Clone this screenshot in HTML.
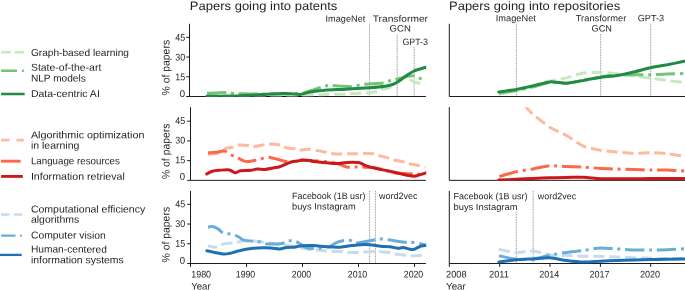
<!DOCTYPE html>
<html><head><meta charset="utf-8"><title>chart</title>
<style>
html,body{margin:0;padding:0;background:#fff;}
svg{display:block;will-change:transform;font-family:"Liberation Sans",sans-serif;fill:#1f1f1f;}
</style></head><body>
<svg width="685" height="290" viewBox="0 0 685 290">
<rect width="685" height="290" fill="#fff"/>
<defs>
<clipPath id="cL0"><rect x="188" y="23.8" width="238.2" height="73.05"/></clipPath>
<clipPath id="cL1"><rect x="188" y="107.2" width="238.2" height="73.5"/></clipPath>
<clipPath id="cL2"><rect x="188" y="190.85" width="238.2" height="73.0"/></clipPath>
<clipPath id="cR0"><rect x="447" y="23.8" width="240" height="73.05"/></clipPath>
<clipPath id="cR1"><rect x="447" y="107.2" width="240" height="73.5"/></clipPath>
<clipPath id="cR2"><rect x="447" y="190.85" width="240" height="73.0"/></clipPath>
</defs>
<line x1="369.5" y1="23.8" x2="369.5" y2="96.5" stroke="#d0d0d0" stroke-width="0.65"/><line x1="369.5" y1="23.8" x2="369.5" y2="96.5" stroke="#808080" stroke-width="0.65" stroke-dasharray="1.1 1.5"/>
<line x1="397.2" y1="35.2" x2="397.2" y2="96.5" stroke="#d0d0d0" stroke-width="0.65"/><line x1="397.2" y1="35.2" x2="397.2" y2="96.5" stroke="#808080" stroke-width="0.65" stroke-dasharray="1.1 1.5"/>
<line x1="414.2" y1="47.1" x2="414.2" y2="96.5" stroke="#d0d0d0" stroke-width="0.65"/><line x1="414.2" y1="47.1" x2="414.2" y2="96.5" stroke="#808080" stroke-width="0.65" stroke-dasharray="1.1 1.5"/>
<line x1="516.4" y1="23.8" x2="516.4" y2="96.5" stroke="#d0d0d0" stroke-width="0.65"/><line x1="516.4" y1="23.8" x2="516.4" y2="96.5" stroke="#808080" stroke-width="0.65" stroke-dasharray="1.1 1.5"/>
<line x1="600.6" y1="34" x2="600.6" y2="96.5" stroke="#d0d0d0" stroke-width="0.65"/><line x1="600.6" y1="34" x2="600.6" y2="96.5" stroke="#808080" stroke-width="0.65" stroke-dasharray="1.1 1.5"/>
<line x1="650.7" y1="23.8" x2="650.7" y2="96.5" stroke="#d0d0d0" stroke-width="0.65"/><line x1="650.7" y1="23.8" x2="650.7" y2="96.5" stroke="#808080" stroke-width="0.65" stroke-dasharray="1.1 1.5"/>
<line x1="369.6" y1="190.9" x2="369.6" y2="263.5" stroke="#d0d0d0" stroke-width="0.65"/><line x1="369.6" y1="190.9" x2="369.6" y2="263.5" stroke="#808080" stroke-width="0.65" stroke-dasharray="1.1 1.5"/>
<line x1="375.4" y1="190.9" x2="375.4" y2="263.5" stroke="#d0d0d0" stroke-width="0.65"/><line x1="375.4" y1="190.9" x2="375.4" y2="263.5" stroke="#808080" stroke-width="0.65" stroke-dasharray="1.1 1.5"/>
<line x1="516.3" y1="211.6" x2="516.3" y2="263.5" stroke="#d0d0d0" stroke-width="0.65"/><line x1="516.3" y1="211.6" x2="516.3" y2="263.5" stroke="#808080" stroke-width="0.65" stroke-dasharray="1.1 1.5"/>
<line x1="533.2" y1="190.9" x2="533.2" y2="263.5" stroke="#d0d0d0" stroke-width="0.65"/><line x1="533.2" y1="190.9" x2="533.2" y2="263.5" stroke="#808080" stroke-width="0.65" stroke-dasharray="1.1 1.5"/>
<path d="M189.5,23.8 V96.5 H425.9" fill="none" stroke="#1c1c1c" stroke-width="1.0"/>
<path d="M449.3,23.8 V96.5 H685" fill="none" stroke="#1c1c1c" stroke-width="1.0"/>
<line x1="186.2" y1="96.50" x2="189.5" y2="96.50" stroke="#1c1c1c" stroke-width="1.0"/>
<text transform="translate(185.1,96.9) scale(0.9832,1) rotate(0.03)" font-size="9.7" text-anchor="end">0</text>
<line x1="186.2" y1="76.78" x2="189.5" y2="76.78" stroke="#1c1c1c" stroke-width="1.0"/>
<text transform="translate(185.1,80.28) scale(0.9183,1) rotate(0.03)" font-size="9.7" text-anchor="end">15</text>
<line x1="186.2" y1="57.06" x2="189.5" y2="57.06" stroke="#1c1c1c" stroke-width="1.0"/>
<text transform="translate(185.1,60.56) scale(0.9183,1) rotate(0.03)" font-size="9.7" text-anchor="end">30</text>
<line x1="186.2" y1="37.34" x2="189.5" y2="37.34" stroke="#1c1c1c" stroke-width="1.0"/>
<text transform="translate(185.1,40.84) scale(0.9183,1) rotate(0.03)" font-size="9.7" text-anchor="end">45</text>
<text transform="translate(169.6,67.7) rotate(-90.03) scale(0.9649,1)" font-size="10.8" text-anchor="middle">% of papers</text>
<path d="M190.5,107.2 V180.35 H425.9" fill="none" stroke="#1c1c1c" stroke-width="1.0"/>
<path d="M449.3,107.2 V180.35 H685" fill="none" stroke="#1c1c1c" stroke-width="1.0"/>
<line x1="187.2" y1="180.35" x2="190.5" y2="180.35" stroke="#1c1c1c" stroke-width="1.0"/>
<text transform="translate(185.1,179.65) scale(0.9832,1) rotate(0.03)" font-size="9.7" text-anchor="end">0</text>
<line x1="187.2" y1="160.63" x2="190.5" y2="160.63" stroke="#1c1c1c" stroke-width="1.0"/>
<text transform="translate(185.1,163.33) scale(0.9183,1) rotate(0.03)" font-size="9.7" text-anchor="end">15</text>
<line x1="187.2" y1="140.91" x2="190.5" y2="140.91" stroke="#1c1c1c" stroke-width="1.0"/>
<text transform="translate(185.1,143.61) scale(0.9183,1) rotate(0.03)" font-size="9.7" text-anchor="end">30</text>
<line x1="187.2" y1="121.19" x2="190.5" y2="121.19" stroke="#1c1c1c" stroke-width="1.0"/>
<text transform="translate(185.1,123.89) scale(0.9183,1) rotate(0.03)" font-size="9.7" text-anchor="end">45</text>
<text transform="translate(169.6,151.3) rotate(-90.03) scale(0.9649,1)" font-size="10.8" text-anchor="middle">% of papers</text>
<path d="M190.5,190.85 V263.5 H425.9" fill="none" stroke="#1c1c1c" stroke-width="1.0"/>
<path d="M449.3,190.85 V263.5 H685" fill="none" stroke="#1c1c1c" stroke-width="1.0"/>
<line x1="187.2" y1="263.50" x2="190.5" y2="263.50" stroke="#1c1c1c" stroke-width="1.0"/>
<text transform="translate(185.1,263.65) scale(0.9832,1) rotate(0.03)" font-size="9.7" text-anchor="end">0</text>
<line x1="187.2" y1="243.78" x2="190.5" y2="243.78" stroke="#1c1c1c" stroke-width="1.0"/>
<text transform="translate(185.1,246.78) scale(0.9183,1) rotate(0.03)" font-size="9.7" text-anchor="end">15</text>
<line x1="187.2" y1="224.06" x2="190.5" y2="224.06" stroke="#1c1c1c" stroke-width="1.0"/>
<text transform="translate(185.1,227.06) scale(0.9183,1) rotate(0.03)" font-size="9.7" text-anchor="end">30</text>
<line x1="187.2" y1="204.34" x2="190.5" y2="204.34" stroke="#1c1c1c" stroke-width="1.0"/>
<text transform="translate(185.1,207.34) scale(0.9183,1) rotate(0.03)" font-size="9.7" text-anchor="end">45</text>
<text transform="translate(169.6,234.7) rotate(-90.03) scale(0.9649,1)" font-size="10.8" text-anchor="middle">% of papers</text>
<line x1="190.5" y1="263.5" x2="190.5" y2="266.9" stroke="#1c1c1c" stroke-width="1.0"/>
<text transform="translate(191.2,277.5) scale(0.9324,1) rotate(0.03)" font-size="9.6" text-anchor="start">1980</text>
<line x1="246.5" y1="263.5" x2="246.5" y2="266.9" stroke="#1c1c1c" stroke-width="1.0"/>
<text transform="translate(245.5,277.5) scale(0.9136,1) rotate(0.03)" font-size="9.6" text-anchor="middle">1990</text>
<line x1="302.5" y1="263.5" x2="302.5" y2="266.9" stroke="#1c1c1c" stroke-width="1.0"/>
<text transform="translate(301.5,277.5) scale(0.9136,1) rotate(0.03)" font-size="9.6" text-anchor="middle">2000</text>
<line x1="358.5" y1="263.5" x2="358.5" y2="266.9" stroke="#1c1c1c" stroke-width="1.0"/>
<text transform="translate(357.5,277.5) scale(0.9136,1) rotate(0.03)" font-size="9.6" text-anchor="middle">2010</text>
<line x1="414.5" y1="263.5" x2="414.5" y2="266.9" stroke="#1c1c1c" stroke-width="1.0"/>
<text transform="translate(413.5,277.5) scale(0.9136,1) rotate(0.03)" font-size="9.6" text-anchor="middle">2020</text>
<line x1="449.3" y1="263.5" x2="449.3" y2="266.9" stroke="#1c1c1c" stroke-width="1.0"/>
<text transform="translate(446.1,277.5) scale(0.9605,1) rotate(0.03)" font-size="9.6" text-anchor="start">2008</text>
<line x1="499.7" y1="263.5" x2="499.7" y2="266.9" stroke="#1c1c1c" stroke-width="1.0"/>
<text transform="translate(499.0,277.5) scale(0.9738,1) rotate(0.03)" font-size="9.6" text-anchor="middle">2011</text>
<line x1="550.0" y1="263.5" x2="550.0" y2="266.9" stroke="#1c1c1c" stroke-width="1.0"/>
<text transform="translate(549.3,277.5) scale(0.9417,1) rotate(0.03)" font-size="9.6" text-anchor="middle">2014</text>
<line x1="600.4" y1="263.5" x2="600.4" y2="266.9" stroke="#1c1c1c" stroke-width="1.0"/>
<text transform="translate(599.6,277.5) scale(0.9417,1) rotate(0.03)" font-size="9.6" text-anchor="middle">2017</text>
<line x1="650.7" y1="263.5" x2="650.7" y2="266.9" stroke="#1c1c1c" stroke-width="1.0"/>
<text transform="translate(650.0,277.5) scale(0.9417,1) rotate(0.03)" font-size="9.6" text-anchor="middle">2020</text>
<text transform="translate(191.2,289.4) scale(1.0005,1) rotate(0.03)" font-size="9.6" text-anchor="start">Year</text>
<text transform="translate(446.1,289.4) scale(1.0160,1) rotate(0.03)" font-size="9.6" text-anchor="start">Year</text>
<path d="M207.0,95.0 C214.2,95.0 234.5,95.1 250.0,95.0 C265.5,95.0 288.6,94.9 300.0,94.9 C311.4,94.8 313.4,94.8 318.6,94.7 C323.8,94.6 326.9,94.3 331.0,94.2 C335.1,94.2 340.0,94.4 343.5,94.2 C347.0,94.1 348.2,93.7 352.0,93.5 C355.8,93.2 362.3,93.2 366.5,92.9 C370.7,92.5 374.5,92.0 377.0,91.5 C379.5,90.9 379.9,90.0 381.6,89.5 C383.4,88.9 385.8,88.7 387.5,88.2 C389.2,87.6 390.4,87.0 392.0,86.0 C393.6,85.1 395.1,83.8 397.0,82.5 C398.9,81.1 401.5,78.4 403.5,77.9 C405.5,77.3 407.6,78.6 409.0,79.0 C410.4,79.5 409.9,79.9 412.0,80.8 C414.1,81.6 419.2,83.3 421.4,84.0 C423.6,84.8 424.4,84.9 425.0,85.0" fill="none" stroke="#c7e9c0" stroke-width="3.0" stroke-linejoin="round" stroke-linecap="butt" stroke-dasharray="11.1 4.8" clip-path="url(#cL0)"/>
<path d="M207.0,93.2 C208.3,93.2 211.8,93.2 215.0,93.0 C218.2,92.9 223.2,92.4 226.0,92.5 C228.8,92.5 229.7,93.0 232.0,93.2 C234.3,93.5 235.3,93.5 240.0,93.7 C244.7,93.8 252.5,94.0 260.0,94.0 C267.5,94.1 278.3,94.0 285.0,93.9 C291.7,93.8 295.8,93.9 300.0,93.5 C304.2,93.0 305.8,92.2 310.0,91.0 C314.2,89.7 321.5,87.0 325.0,86.0 C328.5,85.1 328.5,85.5 331.0,85.5 C333.5,85.4 336.5,85.7 340.0,86.0 C343.5,86.2 349.0,86.9 352.0,86.8 C355.0,86.6 355.7,85.6 358.0,85.2 C360.3,84.7 361.8,84.5 366.0,84.2 C370.2,83.8 379.2,83.4 383.0,82.9 C386.8,82.3 387.3,81.5 389.0,81.0 C390.7,80.6 391.5,80.4 393.0,80.0 C394.5,79.7 396.0,79.5 398.0,79.0 C400.0,78.5 402.7,77.6 405.0,77.0 C407.3,76.5 410.0,75.7 411.8,75.7 C413.6,75.6 414.6,76.2 416.0,76.7 C417.4,77.1 418.7,77.8 420.0,78.4 C421.3,78.9 423.3,79.7 424.0,80.0" fill="none" stroke="#73c476" stroke-width="3.0" stroke-linejoin="round" stroke-linecap="butt" stroke-dasharray="19.2 4.8 3 4.8" clip-path="url(#cL0)"/>
<path d="M206.8,96.2 C210.7,96.2 222.8,96.3 230.0,96.2 C237.2,96.0 244.2,95.5 250.0,95.2 C255.8,95.0 260.0,94.7 265.0,94.4 C270.0,94.1 275.5,93.6 280.0,93.5 C284.5,93.3 288.7,93.5 292.0,93.7 C295.3,93.8 297.0,94.6 300.0,94.4 C303.0,94.1 305.8,92.7 310.0,92.0 C314.2,91.2 319.2,90.6 325.0,90.2 C330.8,89.7 337.5,89.6 345.0,89.2 C352.5,88.7 363.3,88.1 370.0,87.7 C376.7,87.2 381.7,86.7 385.0,86.2 C388.3,85.8 388.5,85.7 390.0,85.2 C391.5,84.8 392.7,84.5 394.0,83.9 C395.3,83.3 396.7,82.5 398.0,81.7 C399.3,80.8 400.5,79.9 402.0,78.9 C403.5,77.8 405.0,76.6 407.0,75.2 C409.0,73.9 411.8,72.0 414.0,71.0 C416.2,69.9 417.8,69.7 420.0,69.0 C422.2,68.4 426.2,67.3 427.5,67.0" fill="none" stroke="#228a44" stroke-width="3.0" stroke-linejoin="round" stroke-linecap="round" clip-path="url(#cL0)"/>
<path d="M208.0,154.4 C209.3,154.3 213.7,154.1 216.0,153.6 C218.3,153.1 220.4,152.4 222.0,151.6 C223.6,150.8 223.9,149.2 225.7,148.5 C227.5,147.8 230.7,147.9 232.7,147.3 C234.7,146.7 235.3,145.3 237.9,145.0 C240.5,144.7 245.8,145.2 248.4,145.5 C251.0,145.8 251.3,146.8 253.7,146.7 C256.1,146.6 260.0,145.4 262.5,145.0 C265.0,144.6 265.7,144.1 268.6,144.1 C271.5,144.1 277.5,144.5 280.0,145.0 C282.5,145.5 281.8,146.6 283.5,147.1 C285.2,147.6 287.8,148.0 290.0,148.3 C292.2,148.6 294.9,148.7 296.6,149.0 C298.3,149.3 298.0,150.2 300.1,150.2 C302.2,150.2 305.3,149.0 309.0,149.2 C312.7,149.4 318.3,150.8 322.4,151.5 C326.5,152.2 328.4,153.3 333.6,153.7 C338.8,154.1 347.1,153.7 353.8,153.7 C360.5,153.7 369.9,153.4 374.0,153.7 C378.1,154.0 375.8,154.8 378.4,155.5 C381.0,156.2 387.1,157.4 389.7,158.2 C392.3,158.9 391.5,159.3 394.1,160.0 C396.7,160.7 402.7,161.6 405.3,162.2 C407.9,162.8 407.6,163.2 409.8,163.8 C412.1,164.4 416.2,165.0 418.8,165.6 C421.4,166.2 424.4,166.8 425.5,167.1" fill="none" stroke="#fcbba1" stroke-width="3.0" stroke-linejoin="round" stroke-linecap="butt" stroke-dasharray="11.1 4.8" clip-path="url(#cL1)"/>
<path d="M208.0,152.9 C209.3,152.8 213.2,152.6 216.0,152.3 C218.8,152.0 222.2,150.6 224.8,151.1 C227.4,151.6 229.3,154.0 231.3,155.0 C233.3,156.0 235.2,156.4 237.0,157.3 C238.8,158.1 240.3,159.4 242.0,160.1 C243.7,160.8 244.8,161.6 247.0,161.6 C249.2,161.6 253.0,160.7 255.4,160.2 C257.8,159.7 259.6,159.2 261.6,158.7 C263.7,158.2 265.5,157.3 267.7,157.3 C269.9,157.3 271.9,157.9 275.0,158.6 C278.1,159.3 283.3,161.1 286.1,161.6 C288.9,162.1 289.7,161.8 292.0,161.6 C294.3,161.4 296.5,160.6 300.0,160.4 C303.5,160.2 308.2,160.4 313.0,160.7 C317.8,161.0 324.8,161.6 329.0,162.1 C333.2,162.6 335.0,163.0 338.0,163.8 C341.0,164.6 344.2,166.5 347.0,167.1 C349.8,167.7 352.1,167.1 354.5,167.1 C356.9,167.1 358.4,167.0 361.6,167.1 C364.9,167.2 370.3,167.0 374.0,167.5 C377.7,168.0 380.7,169.2 384.0,170.1 C387.3,171.0 389.3,172.2 394.0,172.8 C398.7,173.4 408.0,173.7 412.0,173.9 C416.0,174.2 415.8,174.3 418.0,174.3 C420.2,174.3 424.2,174.0 425.5,173.9" fill="none" stroke="#fb694a" stroke-width="3.0" stroke-linejoin="round" stroke-linecap="butt" stroke-dasharray="19.2 4.8 3 4.8" clip-path="url(#cL1)"/>
<path d="M206.8,173.9 C207.7,173.4 210.3,171.8 212.4,171.2 C214.5,170.6 216.4,170.5 219.2,170.3 C222.0,170.1 226.7,169.5 229.3,169.9 C231.9,170.3 233.0,172.6 234.9,172.8 C236.8,172.9 237.9,171.2 240.5,170.8 C243.1,170.4 247.8,170.6 250.6,170.3 C253.4,170.0 254.9,169.2 257.3,169.0 C259.7,168.8 262.5,169.6 265.1,169.4 C267.7,169.2 270.6,168.3 273.0,167.9 C275.4,167.5 277.4,167.5 279.7,166.8 C281.9,166.1 284.4,164.6 286.5,163.8 C288.6,163.0 290.1,162.2 292.0,161.8 C293.9,161.3 296.0,161.4 297.7,161.1 C299.4,160.8 299.9,160.1 302.0,160.0 C304.1,159.9 308.1,160.2 310.0,160.5 C311.9,160.8 310.2,161.2 313.4,161.6 C316.6,162.0 325.0,162.8 329.1,163.1 C333.2,163.4 335.1,163.6 338.1,163.5 C341.1,163.4 343.6,162.6 347.0,162.4 C350.4,162.2 354.9,162.0 358.3,162.6 C361.7,163.2 363.9,165.0 367.2,166.1 C370.5,167.2 374.6,168.2 378.4,169.0 C382.1,169.8 385.9,170.4 389.7,171.2 C393.4,172.0 397.2,173.1 400.9,173.9 C404.6,174.7 409.4,175.8 412.0,176.1 C414.6,176.4 413.9,176.3 416.5,175.7 C419.1,175.1 425.7,172.9 427.5,172.3" fill="none" stroke="#ca181d" stroke-width="3.0" stroke-linejoin="round" stroke-linecap="round" clip-path="url(#cL1)"/>
<path d="M208.0,245.9 C209.3,246.1 213.4,247.4 215.8,247.1 C218.2,246.8 219.9,244.9 222.5,244.2 C225.1,243.5 228.9,243.4 231.5,243.0 C234.1,242.6 235.4,242.3 238.2,241.9 C241.0,241.5 244.3,240.8 248.3,240.8 C252.3,240.8 256.7,241.3 262.0,241.9 C267.3,242.5 274.5,243.6 280.0,244.4 C285.5,245.2 290.9,246.2 295.0,246.9 C299.1,247.6 301.8,248.1 304.5,248.6 C307.2,249.1 308.6,249.4 311.2,249.7 C313.8,250.0 317.0,250.0 320.0,250.3 C323.0,250.6 325.7,251.3 329.0,251.5 C332.3,251.7 337.0,251.3 340.0,251.5 C343.0,251.7 344.0,252.2 347.0,252.4 C350.0,252.6 355.2,252.5 358.0,252.4 C360.8,252.3 361.3,252.1 364.0,251.9 C366.7,251.8 371.6,251.6 374.0,251.5 C376.4,251.4 375.9,251.3 378.5,251.5 C381.1,251.7 387.1,252.0 389.7,252.4 C392.3,252.8 391.4,253.3 394.0,253.8 C396.6,254.3 402.3,254.9 405.0,255.3 C407.7,255.7 407.3,256.0 410.0,256.0 C412.7,256.0 418.3,255.6 421.0,255.3 C423.7,255.0 425.2,254.6 426.0,254.4" fill="none" stroke="#c6dbef" stroke-width="3.0" stroke-linejoin="round" stroke-linecap="butt" stroke-dasharray="11.1 4.8" stroke-dashoffset="1.8" clip-path="url(#cL2)"/>
<path d="M208.0,227.1 C208.7,227.0 210.7,226.3 212.4,226.6 C214.1,226.9 216.1,227.8 218.0,228.9 C219.9,230.0 221.5,232.5 223.6,233.3 C225.7,234.2 228.0,233.4 230.4,234.0 C232.8,234.6 235.9,235.7 238.2,236.7 C240.5,237.7 240.8,239.3 244.0,240.1 C247.2,240.9 254.3,241.2 257.3,241.6 C260.3,242.0 260.1,241.9 261.8,242.3 C263.5,242.7 264.0,243.7 267.4,243.9 C270.8,244.1 278.3,243.9 282.0,243.4 C285.7,242.9 287.2,240.9 289.8,240.7 C292.4,240.5 294.9,241.1 297.7,242.3 C300.5,243.5 303.3,246.9 306.7,247.9 C310.1,248.9 314.3,248.5 318.0,248.3 C321.7,248.1 326.1,247.7 329.1,246.8 C332.1,245.9 333.6,243.9 335.9,242.9 C338.1,241.9 340.2,241.1 342.6,240.7 C345.0,240.3 348.0,240.1 350.4,240.5 C352.8,240.9 353.3,243.0 357.2,242.9 C361.1,242.8 370.1,240.7 374.0,240.0 C377.9,239.3 378.5,239.0 380.7,238.9 C382.9,238.8 383.3,239.0 387.4,239.6 C391.5,240.2 401.2,241.9 405.3,242.3 C409.4,242.8 409.6,242.1 412.0,242.3 C414.4,242.6 417.6,243.2 420.0,243.8 C422.4,244.4 425.5,245.3 426.6,245.6" fill="none" stroke="#6aaed6" stroke-width="3.0" stroke-linejoin="round" stroke-linecap="butt" stroke-dasharray="19.2 4.8 3 4.8" stroke-dashoffset="2.5" clip-path="url(#cL2)"/>
<path d="M206.8,250.8 C208.1,251.1 211.9,251.9 214.7,252.4 C217.5,252.9 221.2,253.8 223.6,254.0 C226.0,254.2 227.1,253.9 229.3,253.5 C231.6,253.1 234.3,252.0 237.1,251.3 C239.9,250.6 242.6,249.9 246.0,249.3 C249.4,248.7 253.2,248.1 257.3,247.9 C261.4,247.7 267.1,247.7 270.8,247.9 C274.5,248.1 277.1,249.1 279.7,249.0 C282.3,248.9 283.9,247.8 286.5,247.5 C289.1,247.2 292.8,247.3 295.4,247.0 C298.0,246.7 299.2,245.9 302.2,245.7 C305.2,245.5 309.3,245.4 313.4,245.6 C317.5,245.8 322.4,246.5 326.9,246.8 C331.4,247.1 336.2,247.4 340.3,247.2 C344.4,247.0 347.5,246.1 351.6,245.6 C355.7,245.2 361.3,244.6 365.0,244.5 C368.7,244.4 371.4,244.9 374.0,245.2 C376.6,245.5 378.1,246.0 380.7,246.3 C383.3,246.6 386.7,246.5 389.7,246.8 C392.7,247.1 396.4,248.2 398.6,248.3 C400.8,248.4 401.2,247.2 403.1,247.4 C405.0,247.6 407.9,248.9 409.8,249.2 C411.7,249.5 412.4,249.7 414.3,249.2 C416.2,248.7 418.8,246.8 421.0,246.1 C423.2,245.4 426.5,245.2 427.6,245.0" fill="none" stroke="#2070b4" stroke-width="3.0" stroke-linejoin="round" stroke-linecap="round" clip-path="url(#cL2)"/>
<path d="M498.8,94.0 C500.8,93.7 512.2,91.7 516.2,90.7 C520.2,89.6 529.1,86.6 533.0,85.5 C536.9,84.3 545.9,81.9 549.8,81.0 C553.7,80.2 562.7,78.8 566.6,77.9 C570.5,76.9 579.5,73.7 583.4,73.0 C587.3,72.4 596.3,72.3 600.2,72.4 C604.1,72.4 613.1,73.3 617.0,73.8 C620.9,74.2 629.9,75.3 633.8,75.9 C637.7,76.4 646.7,77.7 650.6,78.2 C654.5,78.8 663.5,79.9 667.4,80.5 C671.3,81.0 682.2,82.4 684.2,82.7" fill="none" stroke="#c7e9c0" stroke-width="3.0" stroke-linejoin="round" stroke-linecap="butt" stroke-dasharray="11.1 4.8" clip-path="url(#cR0)"/>
<path d="M498.8,93.4 C500.8,93.0 512.2,91.2 516.2,90.5 C520.2,89.7 529.1,87.8 533.0,86.9 C536.9,85.9 545.9,83.1 549.8,82.7 C553.7,82.2 562.7,83.5 566.6,83.2 C570.5,83.0 579.5,81.2 583.4,80.5 C587.3,79.7 596.3,77.5 600.2,76.9 C604.1,76.2 613.1,75.4 617.0,75.2 C620.9,74.9 629.9,74.7 633.8,74.7 C637.7,74.6 646.7,74.8 650.6,74.8 C654.5,74.7 663.5,74.2 667.4,74.0 C671.3,73.9 682.2,73.6 684.2,73.5" fill="none" stroke="#73c476" stroke-width="3.0" stroke-linejoin="round" stroke-linecap="butt" stroke-dasharray="19.2 4.8 3 4.8" clip-path="url(#cR0)"/>
<path d="M498.8,92.0 C500.8,91.6 512.2,90.1 516.2,89.4 C520.2,88.6 529.1,86.7 533.0,85.9 C536.9,85.0 545.9,82.2 549.8,81.9 C553.7,81.5 562.7,83.4 566.6,83.2 C570.5,83.1 579.5,81.0 583.4,80.4 C587.3,79.7 596.3,77.9 600.2,77.4 C604.1,76.8 613.1,76.2 617.0,75.5 C620.9,74.9 629.9,73.0 633.8,72.0 C637.7,71.1 646.7,68.6 650.6,67.8 C654.5,66.9 663.5,65.5 667.4,64.8 C671.3,64.0 682.2,61.6 684.2,61.2" fill="none" stroke="#228a44" stroke-width="3.0" stroke-linejoin="round" stroke-linecap="round" clip-path="url(#cR0)"/>
<path d="M520.5,100.1 C521.2,101.0 525.2,106.2 526.7,107.9 C528.2,109.6 530.3,112.0 533.0,114.3 C535.7,116.6 545.9,124.8 549.8,127.3 C553.7,129.8 562.7,133.3 566.6,135.5 C570.5,137.7 579.5,144.4 583.4,146.1 C587.3,147.8 596.3,149.5 600.2,150.2 C604.1,150.9 613.0,151.6 616.9,152.0 C620.8,152.4 629.8,153.3 633.7,153.4 C637.6,153.5 646.6,152.7 650.5,152.7 C654.4,152.7 663.4,153.3 667.3,153.7 C671.2,154.1 682.1,156.0 684.1,156.3" fill="none" stroke="#fcbba1" stroke-width="3.0" stroke-linejoin="round" stroke-linecap="butt" stroke-dasharray="11.1 4.8" stroke-dashoffset="8.8" clip-path="url(#cR1)"/>
<path d="M498.8,176.7 C500.8,176.1 512.2,172.6 516.2,171.7 C520.2,170.8 529.1,169.6 533.0,168.9 C536.9,168.2 545.9,166.0 549.8,165.7 C553.7,165.4 562.7,166.4 566.6,166.6 C570.5,166.8 579.5,166.8 583.4,167.0 C587.3,167.2 596.3,168.2 600.2,168.4 C604.1,168.6 613.1,169.0 617.0,169.1 C620.9,169.2 629.9,169.4 633.8,169.5 C637.7,169.6 646.7,170.0 650.6,170.1 C654.5,170.2 663.5,170.0 667.4,170.1 C671.3,170.2 682.2,170.8 684.2,170.9" fill="none" stroke="#fb694a" stroke-width="3.0" stroke-linejoin="round" stroke-linecap="butt" stroke-dasharray="19.2 4.8 3 4.8" stroke-dashoffset="-0.8" clip-path="url(#cR1)"/>
<path d="M498.8,180.1 C500.8,180.0 512.2,179.5 516.2,179.3 C520.2,179.1 529.1,178.6 533.0,178.4 C536.9,178.2 545.9,177.8 549.8,177.7 C553.7,177.6 562.7,177.4 566.6,177.4 C570.5,177.4 579.5,177.1 583.4,177.3 C587.3,177.5 596.3,178.5 600.2,178.7 C604.1,178.9 613.1,178.7 617.0,178.7 C620.9,178.7 629.9,178.7 633.8,178.7 C637.7,178.7 646.7,178.6 650.6,178.6 C654.5,178.6 663.5,178.6 667.4,178.6 C671.3,178.6 682.2,178.5 684.2,178.5" fill="none" stroke="#ca181d" stroke-width="3.0" stroke-linejoin="round" stroke-linecap="round" clip-path="url(#cR1)"/>
<path d="M498.8,249.3 C500.8,249.7 512.2,252.5 516.2,252.7 C520.2,252.9 529.1,250.7 533.0,251.0 C536.9,251.3 545.9,254.4 549.8,254.9 C553.7,255.4 562.7,255.4 566.6,255.6 C570.5,255.8 579.5,256.1 583.4,256.2 C587.3,256.3 596.3,256.4 600.2,256.5 C604.1,256.6 613.1,256.9 617.0,257.1 C620.9,257.3 629.9,257.7 633.8,257.8 C637.7,257.9 646.7,258.1 650.6,258.2 C654.5,258.3 663.5,258.6 667.4,258.6 C671.3,258.6 682.2,258.6 684.2,258.6" fill="none" stroke="#c6dbef" stroke-width="3.0" stroke-linejoin="round" stroke-linecap="butt" stroke-dasharray="11.1 4.8" clip-path="url(#cR2)"/>
<path d="M498.8,255.6 C500.8,256.0 512.2,258.9 516.2,259.3 C520.2,259.7 529.1,259.6 533.0,259.1 C536.9,258.6 545.9,256.0 549.8,255.2 C553.7,254.4 562.7,252.9 566.6,252.4 C570.5,251.9 579.5,251.0 583.4,250.5 C587.3,250.0 596.3,248.1 600.2,247.9 C604.1,247.7 613.1,248.7 617.0,248.9 C620.9,249.1 629.9,249.8 633.8,249.9 C637.7,250.0 646.7,250.0 650.6,250.0 C654.5,250.0 663.5,250.0 667.4,249.8 C671.3,249.6 682.2,248.8 684.2,248.7" fill="none" stroke="#6aaed6" stroke-width="3.0" stroke-linejoin="round" stroke-linecap="butt" stroke-dasharray="19.2 4.8 3 4.8" stroke-dashoffset="-0.6" clip-path="url(#cR2)"/>
<path d="M498.8,262.0 C500.8,261.7 512.2,260.2 516.2,259.8 C520.2,259.4 529.1,259.1 533.0,258.9 C536.9,258.7 545.9,257.6 549.8,257.8 C553.7,258.0 562.7,260.0 566.6,260.5 C570.5,261.0 579.5,262.0 583.4,262.1 C587.3,262.2 596.3,261.4 600.2,261.2 C604.1,261.0 613.1,260.7 617.0,260.5 C620.9,260.3 629.9,260.0 633.8,259.9 C637.7,259.8 646.7,259.7 650.6,259.6 C654.5,259.5 663.5,259.4 667.4,259.3 C671.3,259.2 682.2,259.1 684.2,259.1" fill="none" stroke="#2070b4" stroke-width="3.0" stroke-linejoin="round" stroke-linecap="round" clip-path="url(#cR2)"/>
<text transform="translate(189.8,9.9) scale(1.0670,1) rotate(0.03)" font-size="12.2" text-anchor="start">Papers going into patents</text>
<text transform="translate(449.1,9.9) scale(1.0611,1) rotate(0.03)" font-size="12.2" text-anchor="start">Papers going into repositories</text>
<text transform="translate(325.5,21.7) scale(0.9989,1) rotate(0.03)" font-size="9.2" text-anchor="start">ImageNet</text>
<text transform="translate(372.7,21.7) scale(1.1130,1) rotate(0.03)" font-size="9.2" text-anchor="start">Transformer</text>
<text transform="translate(389.6,31.6) scale(1.0381,1) rotate(0.03)" font-size="9.2" text-anchor="start">GCN</text>
<text transform="translate(402.4,45.1) scale(0.9638,1) rotate(0.03)" font-size="9.2" text-anchor="start">GPT-3</text>
<text transform="translate(495.8,21.2) scale(1.0064,1) rotate(0.03)" font-size="9.2" text-anchor="start">ImageNet</text>
<text transform="translate(575.7,21.2) scale(1.0184,1) rotate(0.03)" font-size="9.2" text-anchor="start">Transformer</text>
<text transform="translate(591.5,31.5) scale(0.9989,1) rotate(0.03)" font-size="9.2" text-anchor="start">GCN</text>
<text transform="translate(637.7,21.2) scale(0.9939,1) rotate(0.03)" font-size="9.2" text-anchor="start">GPT-3</text>
<text transform="translate(292,198.9) scale(0.9725,1) rotate(0.03)" font-size="9.2" text-anchor="start">Facebook (1B usr)</text>
<text transform="translate(292,209.5) scale(1.0125,1) rotate(0.03)" font-size="9.2" text-anchor="start">buys Instagram</text>
<text transform="translate(379,198.9) scale(0.9789,1) rotate(0.03)" font-size="9.2" text-anchor="start">word2vec</text>
<text transform="translate(453.5,199.3) scale(0.9791,1) rotate(0.03)" font-size="9.2" text-anchor="start">Facebook (1B usr)</text>
<text transform="translate(453.5,210.0) scale(1.0189,1) rotate(0.03)" font-size="9.2" text-anchor="start">buys Instagram</text>
<text transform="translate(537.7,199.3) scale(0.9789,1) rotate(0.03)" font-size="9.2" text-anchor="start">word2vec</text>
<path d="M1.1,52.3 H10.9 M14.5,52.3 H24.2" stroke="#c7e9c0" stroke-width="2.4" fill="none"/>
<text transform="translate(30.9,56) scale(1.0152,1) rotate(0.03)" font-size="10" text-anchor="start">Graph-based learning</text>
<path d="M1.1,70.7 H17.1 M21.9,70.7 H23.8" stroke="#73c476" stroke-width="2.4" fill="none"/>
<text transform="translate(30.9,70.7) scale(1.0481,1) rotate(0.03)" font-size="10" text-anchor="start">State-of-the-art</text>
<text transform="translate(30.9,81.6) scale(1.0129,1) rotate(0.03)" font-size="10" text-anchor="start">NLP models</text>
<path d="M1.1,94.0 H24.7" stroke="#228a44" stroke-width="2.5" fill="none"/>
<text transform="translate(30.9,97) scale(1.0519,1) rotate(0.03)" font-size="10" text-anchor="start">Data-centric AI</text>
<path d="M1.1,140.1 H9.4 M16.4,140.1 H23.8" stroke="#fcbba1" stroke-width="2.9" fill="none"/>
<text transform="translate(30.9,138.3) scale(1.0766,1) rotate(0.03)" font-size="10" text-anchor="start">Algorithmic optimization</text>
<text transform="translate(30.9,148.7) scale(1.0508,1) rotate(0.03)" font-size="10" text-anchor="start">in learning</text>
<path d="M1.1,161.2 H20.7" stroke="#fb694a" stroke-width="2.9" fill="none"/>
<text transform="translate(30.9,164.2) scale(0.9760,1) rotate(0.03)" font-size="10" text-anchor="start">Language resources</text>
<path d="M1.1,176.4 H22.8" stroke="#ca181d" stroke-width="2.9" fill="none"/>
<text transform="translate(30.9,179.8) scale(1.0636,1) rotate(0.03)" font-size="10" text-anchor="start">Information retrieval</text>
<path d="M1.1,214.5 H9.3 M14.0,214.5 H22.3" stroke="#c6dbef" stroke-width="2.3" fill="none"/>
<text transform="translate(30.9,212.4) scale(1.0527,1) rotate(0.03)" font-size="10" text-anchor="start">Computational efficiency</text>
<text transform="translate(30.9,222.7) scale(1.0511,1) rotate(0.03)" font-size="10" text-anchor="start">algorithms</text>
<path d="M1.1,235.6 H15.5 M20.1,235.6 H21.8" stroke="#6aaed6" stroke-width="2.3" fill="none"/>
<text transform="translate(30.9,238.6) scale(1.0378,1) rotate(0.03)" font-size="10" text-anchor="start">Computer vision</text>
<path d="M0,254.9 H21.7" stroke="#2070b4" stroke-width="2.3" fill="none"/>
<text transform="translate(30.9,252.6) scale(1.0203,1) rotate(0.03)" font-size="10" text-anchor="start">Human-centered</text>
<text transform="translate(30.9,263.2) scale(1.0459,1) rotate(0.03)" font-size="10" text-anchor="start">information systems</text>
</svg></body></html>
